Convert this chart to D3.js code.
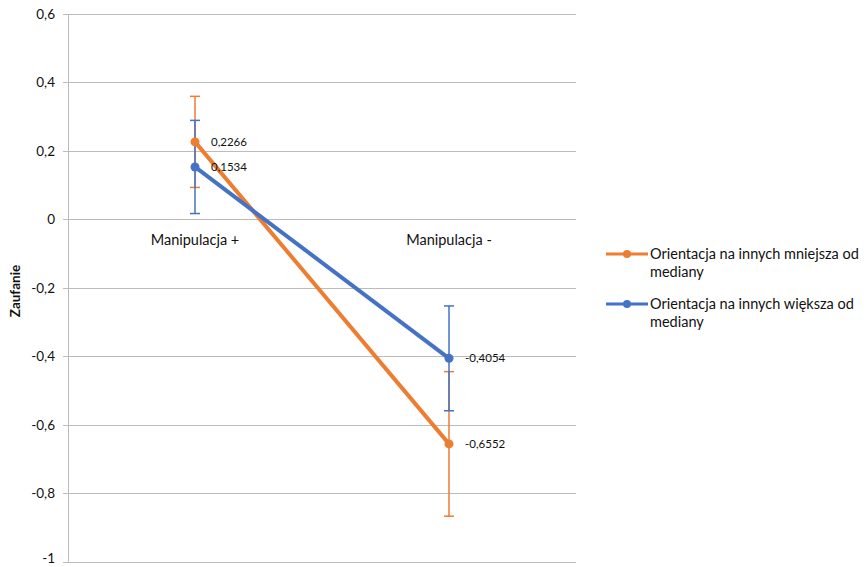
<!DOCTYPE html>
<html><head><meta charset="utf-8">
<script src="https://cdn.jsdelivr.net/npm/d3@7"></script>
<style>body{margin:0;background:#fff;} svg{display:block;font-family:Lato,"Open Sans",sans-serif;}</style>
</head><body>
<svg id="c" width="868" height="567"></svg>
<script>
const categories = ["Manipulacja +", "Manipulacja -"];
const seriesNames = ["Orientacja na innych mniejsza od mediany", "Orientacja na innych większa od mediany"];
const seriesLow = [0.2266, -0.6552];
const seriesHigh = [0.1534, -0.4054];
const errLow = [0.133, 0.211];
const errHigh = [0.136, 0.153];
const yTicks = [0.6, 0.4, 0.2, 0, -0.2, -0.4, -0.6, -0.8, -1];
const yTickLabels = ["0,6", "0,4", "0,2", "0", "-0,2", "-0,4", "-0,6", "-0,8", "-1"];
const yTitle = "Zaufanie";

const colors = ["#ED7D31", "#4472C4"];
const textColor = "#111";
const svg = d3.select("#c");
const L = 68, R = 576, T = 14, B = 562;
const x = d3.scalePoint().domain(categories).range([L, R]).padding(0.5);
const y = d3.scaleLinear().domain([-1, 0.6]).range([B, T]);

// gridlines
svg.append("g").selectAll("line").data(yTicks).join("line")
  .attr("x1", L - 5).attr("x2", R).attr("y1", d => y(d)).attr("y2", d => y(d))
  .attr("stroke", "#BCBCBC").attr("stroke-width", 1).attr("shape-rendering", "crispEdges");
// y axis line
svg.append("line").attr("x1", L).attr("x2", L).attr("y1", T).attr("y2", B)
  .attr("stroke", "#BCBCBC").attr("shape-rendering", "crispEdges");
// tick labels
svg.append("g").selectAll("text").data(yTicks).join("text")
  .attr("x", L - 13).attr("y", d => Math.min(y(d), 558)).attr("dy", "0.35em").attr("text-anchor", "end")
  .attr("font-size", 13.5).attr("fill", textColor).text((d, i) => yTickLabels[i]);
// category labels
svg.append("g").selectAll("text").data(categories).join("text")
  .attr("x", d => x(d)).attr("y", y(0) + 25).attr("text-anchor", "middle")
  .attr("font-size", 14.5).attr("fill", textColor).text(d => d);
// y title
svg.append("text").attr("transform", `translate(20,291) rotate(-90)`)
  .attr("text-anchor", "middle").attr("font-size", 13.5).attr("font-weight", "bold").attr("fill", textColor).text(yTitle);

const series = [
  {vals: seriesLow, err: errLow, color: colors[0]},
  {vals: seriesHigh, err: errHigh, color: colors[1]}
];
const line = d3.line().x((d, i) => x(categories[i])).y(d => y(d));
// error bars
series.forEach(s => {
  const g = svg.append("g").attr("stroke", s.color).attr("stroke-width", 1.5);
  s.vals.forEach((v, i) => {
    const cx = x(categories[i]);
    g.append("line").attr("x1", cx).attr("x2", cx).attr("y1", y(v + s.err[i])).attr("y2", y(v - s.err[i]));
    [v + s.err[i], v - s.err[i]].forEach(e => {
      g.append("line").attr("x1", cx - 5).attr("x2", cx + 5).attr("y1", y(e)).attr("y2", y(e));
    });
  });
});
// lines + markers
series.forEach(s => {
  svg.append("path").datum(s.vals).attr("d", line).attr("fill", "none")
    .attr("stroke", s.color).attr("stroke-width", 4);
});
series.forEach(s => {
  svg.append("g").selectAll("circle").data(s.vals).join("circle")
    .attr("cx", (d, i) => x(categories[i])).attr("cy", d => y(d)).attr("r", 4.5).attr("fill", s.color);
});
// data labels
series.forEach(s => {
  svg.append("g").selectAll("text").data(s.vals).join("text")
    .attr("x", (d, i) => x(categories[i]) + 16).attr("y", d => y(d)).attr("dy", "0.35em")
    .attr("font-size", 11.5).attr("fill", textColor).text(d => String(d).replace(".", ","));
});
// legend
const legY = [254, 304];
const legLines = [["Orientacja na innych mniejsza od", "mediany"], ["Orientacja na innych większa od", "mediany"]];
series.forEach((s, i) => {
  const g = svg.append("g");
  g.append("line").attr("x1", 606).attr("x2", 648).attr("y1", legY[i]).attr("y2", legY[i])
    .attr("stroke", s.color).attr("stroke-width", 3);
  g.append("circle").attr("cx", 627).attr("cy", legY[i]).attr("r", 4).attr("fill", s.color);
  const t = g.append("text").attr("x", 650).attr("y", legY[i]).attr("dy", "0.35em")
    .attr("font-size", 14.5).attr("fill", textColor);
  t.append("tspan").attr("x", 650).text(legLines[i][0]);
  t.append("tspan").attr("x", 650).attr("dy", 18).text(legLines[i][1]);
  t.attr("aria-label", seriesNames[i]);
});
</script>
</body></html>
